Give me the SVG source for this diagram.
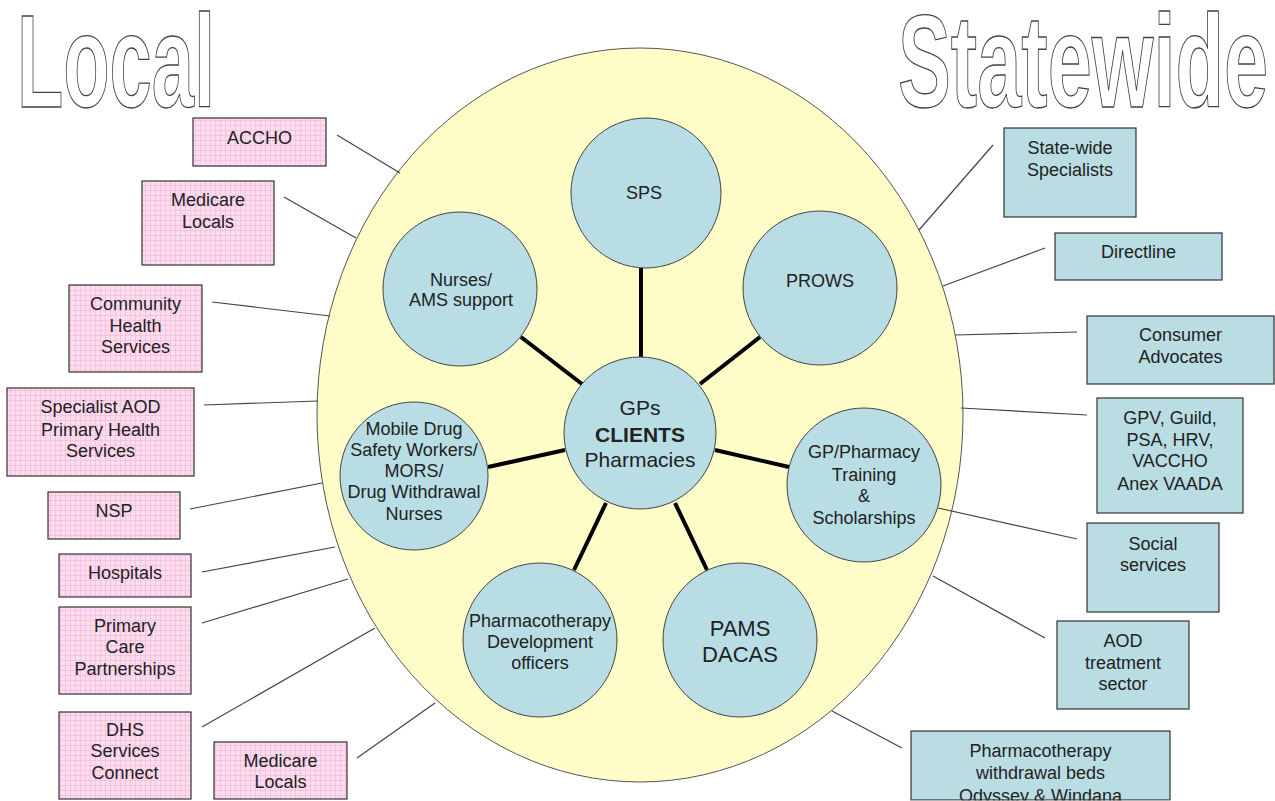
<svg xmlns="http://www.w3.org/2000/svg" width="1275" height="801" viewBox="0 0 1275 801">
<defs>
<pattern id="grid" width="5" height="5" patternUnits="userSpaceOnUse">
<rect width="5" height="5" fill="#fcdcee"/>
<path d="M0 0.5H5M0.5 0V5" stroke="#f5bcdc" stroke-width="0.8"/>
</pattern>
<style>
.title{font-family:"Liberation Sans",Arial,sans-serif;font-weight:bold;font-size:131px;fill:#fff;stroke:#444;stroke-width:1.3}
.t{font-family:"Liberation Sans",Arial,sans-serif;font-size:18px;fill:#222;text-anchor:middle}
.pink{fill:url(#grid);stroke:#333;stroke-width:1.2}
.blue{fill:#b9dde3;stroke:#333;stroke-width:1.2}
.circ{fill:#b8dde4;stroke:#444;stroke-width:1}
.thin line{stroke:#444;stroke-width:1.2}
.thick line{stroke:#000;stroke-width:4}
</style>
</defs>
<rect width="1275" height="801" fill="#fff"/>
<text class="title" x="17" y="107" textLength="198" lengthAdjust="spacingAndGlyphs">Local</text>
<text class="title" x="898" y="107" textLength="370" lengthAdjust="spacingAndGlyphs">Statewide</text>

<ellipse id="outer" cx="640" cy="415" rx="323" ry="367" fill="#fefdc8" stroke="#555" stroke-width="1"/>

<g id="connectors">
<g class="thin">
<line x1="337" y1="135" x2="400" y2="173"/>
<line x1="284" y1="197" x2="356" y2="238"/>
<line x1="212" y1="302" x2="330" y2="316"/>
<line x1="204" y1="405" x2="318" y2="401"/>
<line x1="190" y1="509" x2="322" y2="483"/>
<line x1="202" y1="572" x2="335" y2="547"/>
<line x1="202" y1="623" x2="348" y2="579"/>
<line x1="202" y1="727" x2="375" y2="628"/>
<line x1="357" y1="758" x2="435" y2="703"/>
<line x1="993" y1="145" x2="919" y2="230"/>
<line x1="1045" y1="248" x2="943" y2="286"/>
<line x1="1077" y1="332" x2="955" y2="335"/>
<line x1="1087" y1="415" x2="961" y2="408"/>
<line x1="1077" y1="539" x2="938" y2="508"/>
<line x1="1045" y1="638" x2="933" y2="576"/>
<line x1="902" y1="748" x2="832" y2="711"/>
</g>
<g class="thick">
<line x1="641" y1="268" x2="641" y2="358"/>
<line x1="582" y1="384" x2="521" y2="337"/>
<line x1="700" y1="384" x2="760" y2="337"/>
<line x1="565" y1="450" x2="488" y2="467"/>
<line x1="715" y1="450" x2="789" y2="467"/>
<line x1="606" y1="503" x2="574" y2="570"/>
<line x1="675" y1="503" x2="707" y2="570"/>
</g>
</g>

<g id="sps"><circle class="circ" cx="646" cy="193" r="75"/><text class="t" x="644" y="199">SPS</text></g>
<g id="prows"><circle class="circ" cx="820" cy="288" r="77"/><text class="t" x="820" y="287">PROWS</text></g>
<g id="nurses"><circle class="circ" cx="460" cy="289" r="77"/><text class="t" x="461" y="286">Nurses/</text><text class="t" x="461" y="306">AMS support</text></g>
<g id="gps"><circle class="circ" cx="640" cy="433" r="76"/>
<text class="t" x="640" y="415" style="font-size:21px">GPs</text>
<text class="t" x="640" y="442" style="font-size:21px;font-weight:bold">CLIENTS</text>
<text class="t" x="640" y="467" style="font-size:21px">Pharmacies</text></g>
<g id="mobile"><circle class="circ" cx="414" cy="476" r="74"/>
<text class="t" x="414" y="435">Mobile Drug</text>
<text class="t" x="414" y="456">Safety Workers/</text>
<text class="t" x="414" y="477">MORS/</text>
<text class="t" x="414" y="498">Drug Withdrawal</text>
<text class="t" x="414" y="520">Nurses</text></g>
<g id="training"><circle class="circ" cx="864" cy="485" r="77"/>
<text class="t" x="864" y="458">GP/Pharmacy</text>
<text class="t" x="864" y="481">Training</text>
<text class="t" x="864" y="502">&amp;</text>
<text class="t" x="864" y="524">Scholarships</text></g>
<g id="pdo"><circle class="circ" cx="540" cy="640" r="77"/>
<text class="t" x="540" y="627">Pharmacotherapy</text>
<text class="t" x="540" y="648">Development</text>
<text class="t" x="540" y="669">officers</text></g>
<g id="pams"><circle class="circ" cx="740" cy="640" r="77"/>
<text class="t" x="740" y="636" style="font-size:22px">PAMS</text>
<text class="t" x="740" y="662" style="font-size:22px">DACAS</text></g>

<g id="accho"><rect class="pink" x="193" y="118" width="133" height="48"/><text class="t" x="259.5" y="144">ACCHO</text></g>
<g id="medicare1"><rect class="pink" x="142" y="181" width="132" height="84"/><text class="t" x="208" y="206">Medicare</text><text class="t" x="208" y="228">Locals</text></g>
<g id="chs"><rect class="pink" x="69" y="285" width="133" height="87"/><text class="t" x="135.5" y="310">Community</text><text class="t" x="135.5" y="332">Health</text><text class="t" x="135.5" y="353">Services</text></g>
<g id="aod-phs"><rect class="pink" x="7" y="388" width="187" height="88"/><text class="t" x="100.5" y="413">Specialist AOD</text><text class="t" x="100.5" y="436">Primary Health</text><text class="t" x="100.5" y="457">Services</text></g>
<g id="nsp"><rect class="pink" x="48" y="492" width="132" height="47"/><text class="t" x="114" y="517">NSP</text></g>
<g id="hospitals"><rect class="pink" x="59" y="554" width="132" height="43"/><text class="t" x="125" y="579">Hospitals</text></g>
<g id="pcp"><rect class="pink" x="59" y="607" width="132" height="87"/><text class="t" x="125" y="632">Primary</text><text class="t" x="125" y="653">Care</text><text class="t" x="125" y="675">Partnerships</text></g>
<g id="dhs"><rect class="pink" x="59" y="712" width="132" height="87"/><text class="t" x="125" y="736">DHS</text><text class="t" x="125" y="757">Services</text><text class="t" x="125" y="779">Connect</text></g>
<g id="medicare2"><rect class="pink" x="214" y="742" width="133" height="57"/><text class="t" x="280.5" y="767">Medicare</text><text class="t" x="280.5" y="788">Locals</text></g>

<g id="statewide-specialists"><rect class="blue" x="1004" y="128" width="132" height="89"/><text class="t" x="1070" y="154">State-wide</text><text class="t" x="1070" y="176">Specialists</text></g>
<g id="directline"><rect class="blue" x="1055" y="233" width="167" height="47"/><text class="t" x="1138.5" y="258">Directline</text></g>
<g id="consumer"><rect class="blue" x="1087" y="316" width="187" height="68"/><text class="t" x="1180.5" y="341">Consumer</text><text class="t" x="1180.5" y="363">Advocates</text></g>
<g id="gpv"><rect class="blue" x="1097" y="398" width="146" height="115"/><text class="t" x="1170" y="424">GPV, Guild,</text><text class="t" x="1170" y="446">PSA, HRV,</text><text class="t" x="1170" y="467">VACCHO</text><text class="t" x="1170" y="490">Anex VAADA</text></g>
<g id="social"><rect class="blue" x="1087" y="523" width="132" height="89"/><text class="t" x="1153" y="550">Social</text><text class="t" x="1153" y="571">services</text></g>
<g id="aod-sector"><rect class="blue" x="1057" y="621" width="132" height="88"/><text class="t" x="1123" y="647">AOD</text><text class="t" x="1123" y="669">treatment</text><text class="t" x="1123" y="690">sector</text></g>
<g id="beds"><rect x="911" y="731" width="259" height="69" fill="#b9dde3"/><text class="t" x="1040.5" y="757">Pharmacotherapy</text><text class="t" x="1040.5" y="779">withdrawal beds</text><text class="t" x="1040.5" y="802">Odyssey &amp; Windana</text><rect x="911" y="731" width="259" height="69" fill="none" stroke="#333" stroke-width="1.2"/><rect x="911" y="800.6" width="260" height="1" fill="#fff"/></g>
</svg>
